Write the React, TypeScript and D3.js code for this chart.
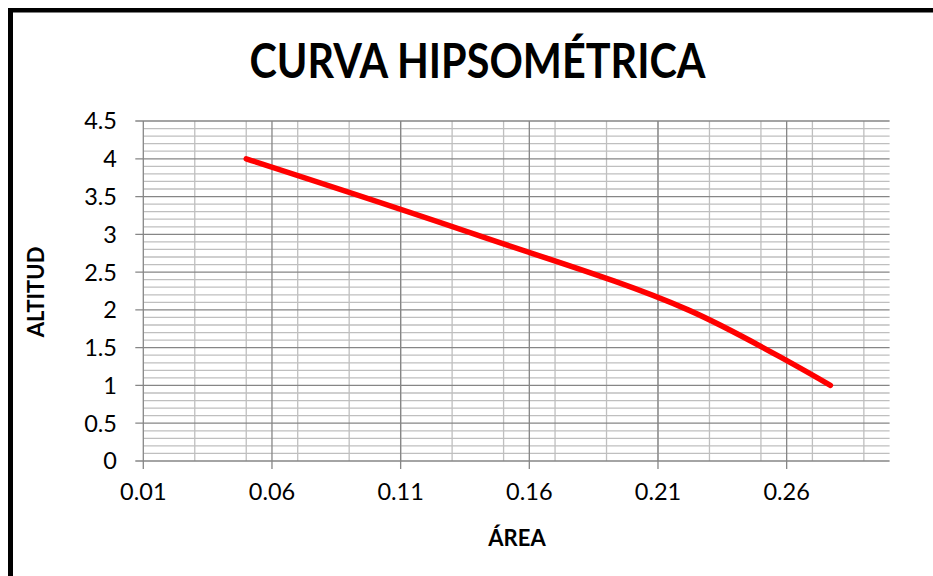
import React from "react";
import * as d3 from "d3";

// Hypsometric curve: relative area vs altitude
const areaValues = [0.05, 0.139, 0.2217, 0.277];
const altitudeValues = [4, 3, 2, 1];

const xMajorTicks = [0.01, 0.06, 0.11, 0.16, 0.21, 0.26];
const xMinorTicks = [0.03, 0.05, 0.07, 0.09, 0.11, 0.13, 0.15, 0.17, 0.19, 0.21, 0.23, 0.25, 0.27, 0.29];
const yMajorTicks = [0, 0.5, 1, 1.5, 2, 2.5, 3, 3.5, 4, 4.5];

const chartTitle = "CURVA HIPSOMÉTRICA";
const xTitle = "ÁREA";
const yTitle = "ALTITUD";

const W = 933;
const H = 576;
const FONT = "Lato, 'Open Sans', sans-serif";

export default function App() {
  const x = d3.scaleLinear().domain([0.01, 0.3]).range([143.3, 889.6]);
  const y = d3.scaleLinear().domain([0, 4.5]).range([461, 121]);

  const yMinor = d3.range(0, 45).map((i) => i / 10).filter((v) => Math.round(v * 10) % 5 !== 0);

  const points = areaValues.map((a, i) => [a, altitudeValues[i]] as [number, number]);
  const line = d3
    .line<[number, number]>()
    .x((d) => x(d[0]))
    .y((d) => y(d[1]))
    .curve(d3.curveCatmullRom.alpha(0.5));

  const [x0, x1] = x.range();
  const majorColor = "#868686";
  const minorColor = "#bfbfbf";

  return (
    <svg
      width={W}
      height={H}
      style={{ position: "absolute", left: 0, top: 0, background: "#fff" }}
      fontFamily={FONT}
    >
      <rect x={0} y={0} width={W} height={H} fill="#fff" />
      {/* outer frame (left and top edges visible) */}
      <rect x={8} y={8} width={5} height={H - 8} fill="#000" />
      <rect x={8} y={8} width={W - 8} height={4.5} fill="#000" />

      <text
        x={477.5}
        y={78}
        textAnchor="middle"
        fontSize={48}
        fontWeight="bold"
        textLength={456}
        lengthAdjust="spacingAndGlyphs"
        fill="#000"
      >
        {chartTitle}
      </text>

      {/* minor horizontal grid */}
      {yMinor.map((v) => (
        <line key={"ym" + v} x1={x0} x2={x1} y1={y(v)} y2={y(v)} stroke={minorColor} strokeWidth={1.3} />
      ))}
      {/* minor vertical grid */}
      {xMinorTicks.map((v) => (
        <line key={"xm" + v} x1={x(v)} x2={x(v)} y1={y(0)} y2={y(4.5)} stroke={minorColor} strokeWidth={1.3} />
      ))}
      {/* major horizontal grid */}
      {yMajorTicks.map((v) => (
        <line key={"yM" + v} x1={x0 - 8} x2={x1} y1={y(v)} y2={y(v)} stroke={majorColor} strokeWidth={1.3} />
      ))}
      {/* major vertical grid */}
      {xMajorTicks.map((v) => (
        <line key={"xM" + v} x1={x(v)} x2={x(v)} y1={y(4.5)} y2={y(0) + 8} stroke={majorColor} strokeWidth={1.3} />
      ))}

      {/* y tick labels */}
      {yMajorTicks.map((v) => (
        <text key={"yl" + v} x={117} y={y(v)} dy="0.36em" textAnchor="end" fontSize={23.5} fill="#000">
          {String(v)}
        </text>
      ))}
      {/* x tick labels */}
      {xMajorTicks.map((v) => (
        <text key={"xl" + v} x={x(v)} y={500} textAnchor="middle" fontSize={23.5} fill="#000">
          {d3.format(".2f")(v)}
        </text>
      ))}

      <text x={517} y={546} textAnchor="middle" fontSize={22} fontWeight="bold" fill="#000">
        {xTitle}
      </text>
      <text
        transform={`translate(44,292) rotate(-90)`}
        textAnchor="middle"
        fontSize={22}
        fontWeight="bold"
        fill="#000"
      >
        {yTitle}
      </text>

      <path
        d={line(points) || ""}
        fill="none"
        stroke="#ff0000"
        strokeWidth={5.5}
        strokeLinecap="round"
        strokeLinejoin="round"
      />
    </svg>
  );
}
